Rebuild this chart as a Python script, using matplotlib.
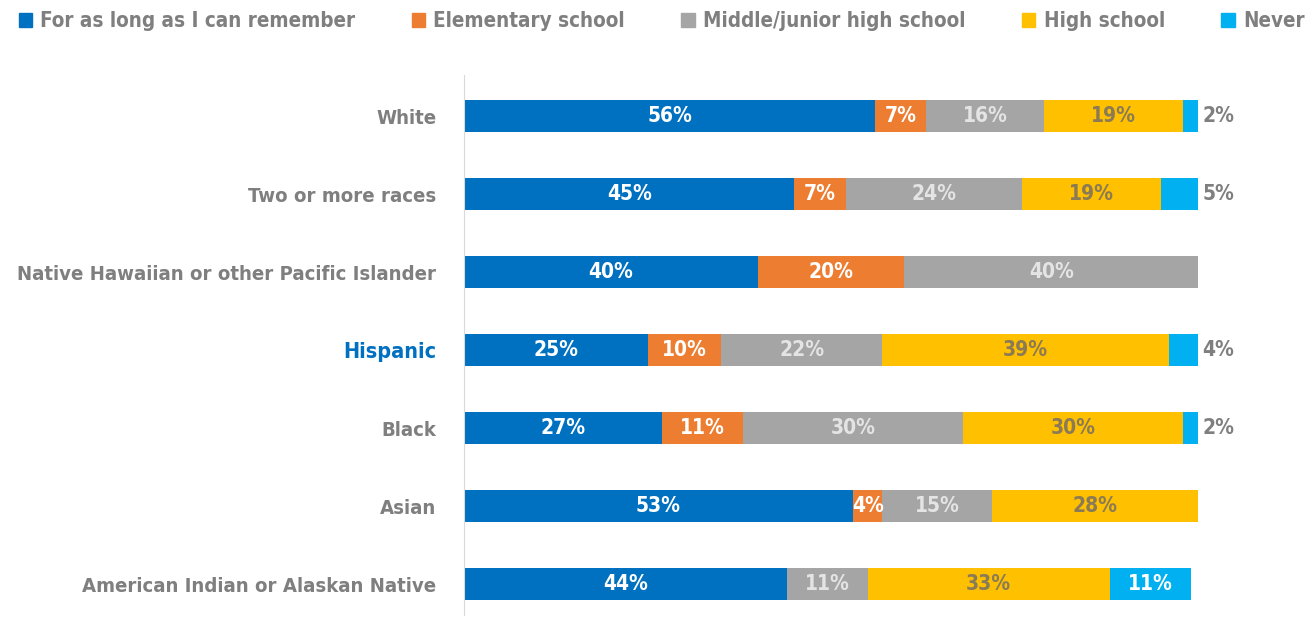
import matplotlib
matplotlib.use("Agg")
import matplotlib.pyplot as plt
from matplotlib.patches import Patch
import numpy as np

plt.rcParams['font.family'] = ['DejaVu Sans']
plt.rcParams['font.stretch'] = 'condensed'
plt.rcParams['font.weight'] = 'bold'

groups = ["White", "Two or more races", "Native Hawaiian or other Pacific Islander",
          "Hispanic", "Black", "Asian", "American Indian or Alaskan Native"]
series = ["For as long as I can remember", "Elementary school",
          "Middle/junior high school", "High school", "Never"]
remember = [56, 45, 40, 25, 27, 53, 44]
elementary = [7, 7, 20, 10, 11, 4, 0]
middle = [16, 24, 40, 22, 30, 15, 11]
high = [19, 19, 0, 39, 30, 28, 33]
never = [2, 5, 0, 4, 2, 0, 11]

colors = ["#0070c0", "#ed7d31", "#a5a5a5", "#ffc000", "#00b0f0"]
text_colors = ["white", "white", "#e4e4e4", "#8a7a55", "white"]
gray_txt = "#7f7f7f"

fig = plt.figure(figsize=(13.14, 6.18), dpi=100)
ax = fig.add_axes([464 / 1314, 1 - 615 / 618, 734 / 1314, 540 / 618])

y = np.arange(len(groups))
left = np.zeros(len(groups))
for vals, col, tcol in zip([remember, elementary, middle, high, never], colors, text_colors):
    vals = np.array(vals, dtype=float)
    ax.barh(y, vals, left=left, height=0.41, color=col)
    for i, v in enumerate(vals):
        if v == 0:
            continue
        if col == colors[4] and v < 10:
            ax.text(left[i] + v + 0.6, i, f"{int(v)}%", ha="left", va="center",
                    fontsize=15, color=gray_txt, clip_on=False)
        else:
            ax.text(left[i] + v / 2, i, f"{int(v)}%", ha="center", va="center",
                    fontsize=15, color=tcol)
    left += vals

ax.set_xlim(0, 100)
ax.set_ylim(6.397, -0.526)
ax.set_yticks(y)
ax.set_yticklabels(groups, fontsize=14.6, color=gray_txt)
hisp = ax.get_yticklabels()[3]
hisp.set_color("#0070c0")
hisp.set_fontsize(15.5)
ax.tick_params(axis="y", length=0, pad=20)
ax.set_xticks([])
for s in ["top", "right", "bottom"]:
    ax.spines[s].set_visible(False)
ax.spines["left"].set_color("#d9d9d9")

handles = [Patch(color=c, label=s) for c, s in zip(colors, series)]
fig.legend(handles=handles, loc="upper left", bbox_to_anchor=(0.0, 1.012), ncol=5,
           frameon=False, fontsize=14.8, labelcolor=gray_txt, handlelength=0.65,
           handleheight=0.65, handletextpad=0.4, columnspacing=2.75)

plt.savefig("out.png", dpi=100)
